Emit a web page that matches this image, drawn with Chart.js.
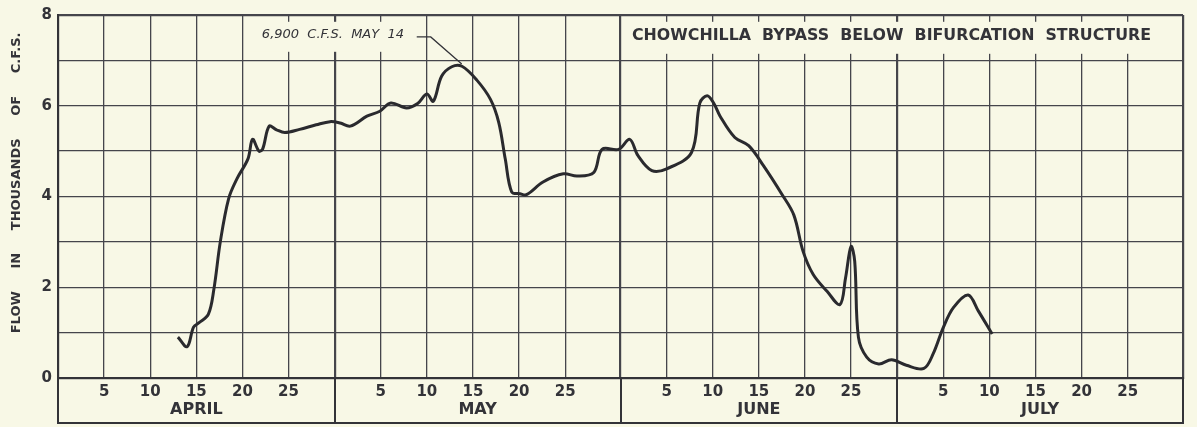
<!DOCTYPE html>
<html>
<head>
<meta charset="utf-8">
<script src="https://cdn.jsdelivr.net/npm/chart.js@4"></script>
<style>
  html, body { margin: 0; padding: 0; background: #f8f8e6; }
  canvas { display: block; }
</style>
</head>
<body>
<canvas id="flowChart" width="1197" height="427"></canvas>
<script>
// 1. data - x is days counted from March 31 (April 1 = 1, May 1 = 31, June 1 = 62, July 1 = 92)
const flowDays = [
  13.0, 14.0, 14.7, 15.3, 16.3, 16.9, 17.6, 18.5, 19.4, 20.6,
  21.1, 21.8, 22.2, 22.9, 23.7, 24.6, 26.2, 28.0, 29.5, 30.6,
  31.7, 33.5, 34.9, 36.1, 37.8, 39.0, 40.0, 40.7, 41.6, 42.7,
  43.8, 45.4, 46.9, 47.8, 48.5, 49.2, 50.1, 50.8, 52.6, 54.8,
  56.3, 58.1, 59.0, 60.8, 62.0, 62.9, 64.4, 66.0, 68.7, 69.6,
  70.4, 71.1, 71.8, 73.4, 74.9, 76.5, 78.5, 79.8, 80.8, 81.9,
  83.4, 84.8, 85.4, 86.0, 86.4, 86.8, 87.7, 89.0, 90.4, 92.0,
  93.9, 94.9, 96.0, 97.1, 98.7, 99.8, 101.3
];
const flowCfs = [ // thousands of c.f.s.
  0.90, 0.69, 1.12, 1.22, 1.40, 1.95, 3.00, 3.95, 4.39, 4.83,
  5.26, 5.00, 5.05, 5.55, 5.47, 5.41, 5.48, 5.58, 5.65, 5.62,
  5.55, 5.77, 5.88, 6.06, 5.95, 6.05, 6.26, 6.10, 6.65, 6.86,
  6.87, 6.57, 6.14, 5.63, 4.83, 4.10, 4.06, 4.04, 4.32, 4.50,
  4.45, 4.53, 5.04, 5.04, 5.26, 4.90, 4.57, 4.61, 4.97, 6.06,
  6.22, 6.06, 5.77, 5.30, 5.12, 4.68, 4.05, 3.59, 2.79, 2.28,
  1.91, 1.62, 2.20, 2.90, 2.57, 0.90, 0.46, 0.31, 0.40, 0.28,
  0.21, 0.53, 1.11, 1.55, 1.83, 1.48, 0.97
];

// 2. axis ticks
const dayTicks   = [0, 5, 10, 15, 20, 25, 30, 35, 40, 45, 50, 55, 61, 66, 71, 76, 81, 86, 91, 96, 101, 106, 111, 116, 122];
const dayLabels  = ['', '5', '10', '15', '20', '25', '', '5', '10', '15', '20', '25', '', '5', '10', '15', '20', '25', '', '5', '10', '15', '20', '25', ''];
const monthEdges = [0, 30, 61, 91, 122];
const monthNames = ['APRIL', 'MAY', 'JUNE', 'JULY'];
const monthMids  = [15, 45.5, 76, 106.5];
const flowTicks  = [0, 1, 2, 3, 4, 5, 6, 7, 8];
const flowLabels = ['0', '', '2', '', '4', '', '6', '', '8'];

const chartTitle = 'CHOWCHILLA  BYPASS  BELOW  BIFURCATION  STRUCTURE';
const peakNote   = '6,900  C.F.S.  MAY  14';
const peakDay    = 44;
const peakFlow   = 6.9;

const INK  = '#333338';
const GRID = '#45454b';
const BG   = '#f8f8e6';

// 3. title, peak note and the month box under the plot
const paperPlugin = {
  id: 'paper',
  beforeDatasetsDraw(chart) {
    const ctx = chart.ctx;
    const x = chart.scales.x, y = chart.scales.y;
    ctx.save();
    // title label sits on a blank patch of paper
    ctx.fillStyle = BG;
    ctx.fillRect(x.getPixelForValue(61) + 4, y.getPixelForValue(7.85), x.right - x.getPixelForValue(61) - 7, 32);
    ctx.fillRect(250, y.getPixelForValue(7.85), 163, 30);
    ctx.fillStyle = INK;
    ctx.textBaseline = 'middle';
    ctx.font = 'bold 16px "DejaVu Sans"';
    ctx.textAlign = 'left';
    ctx.fillText(chartTitle, 632, 36, 519);
    ctx.font = 'italic 13px "DejaVu Sans"';
    ctx.textAlign = 'right';
    ctx.fillText(peakNote, 404, 35, 148);
    // leader to the peak
    const px = x.getPixelForValue(peakDay), py = y.getPixelForValue(peakFlow);
    ctx.strokeStyle = INK;
    ctx.lineWidth = 1.3;
    ctx.beginPath();
    ctx.moveTo(px - 47, py - 28);
    ctx.lineTo(px - 33, py - 28);
    ctx.lineTo(px - 2, py - 1);
    ctx.stroke();
    ctx.restore();
  },
  afterDraw(chart) {
    const ctx = chart.ctx;
    const x = chart.scales.x;
    const top = chart.chartArea.bottom;
    const bottom = chart.scales.xMonth.bottom;
    ctx.save();
    ctx.strokeStyle = INK;
    ctx.lineWidth = 2;
    ctx.strokeRect(x.left, top, x.right - x.left, bottom - top);
    monthEdges.forEach(d => {
      const px = Math.round(x.getPixelForValue(d));
      ctx.beginPath();
      ctx.moveTo(px, top);
      ctx.lineTo(px, bottom);
      ctx.stroke();
    });
    ctx.restore();
  }
};

// 4. chart
const isEdge = v => monthEdges.includes(v);

new Chart(document.getElementById('flowChart'), {
  type: 'line',
  data: {
    datasets: [{
      data: flowDays.map((d, i) => ({ x: d, y: flowCfs[i] })),
      borderColor: '#2a2a2e',
      borderWidth: 3,
      pointRadius: 0,
      tension: 0.35,
      fill: false
    }]
  },
  options: {
    responsive: false,
    animation: false,
    layout: { padding: { top: 11, right: 14, bottom: 4, left: 0 } },
    plugins: { legend: { display: false }, tooltip: { enabled: false } },
    scales: {
      x: {
        type: 'linear',
        min: 0, max: 122,
        weight: 0,
        afterBuildTicks: s => { s.ticks = dayTicks.map(v => ({ value: v })); },
        afterFit: s => { s.height = 22; },
        ticks: {
          autoSkip: false, maxRotation: 0, padding: 5,
          color: INK,
          font: { family: 'DejaVu Sans', size: 15, weight: 'bold' },
          callback: (v, i) => dayLabels[i]
        },
        grid: {
          drawTicks: false,
          color: GRID,
          lineWidth: c => isEdge(c.tick && c.tick.value) ? 2.2 : 1.3
        },
        border: { display: true, color: INK, width: 2 }
      },
      xMonth: {
        type: 'linear',
        position: 'bottom',
        min: 0, max: 122,
        weight: 1,
        afterBuildTicks: s => { s.ticks = monthMids.map(v => ({ value: v })); },
        afterFit: s => { s.height = 23; },
        ticks: {
          autoSkip: false, maxRotation: 0, padding: 0,
          color: INK,
          font: { family: 'DejaVu Sans', size: 16, weight: 'bold' },
          callback: (v, i) => monthNames[i]
        },
        grid: { display: false, drawTicks: false },
        border: { display: false }
      },
      y: {
        min: 0, max: 8,
        afterBuildTicks: s => { s.ticks = flowTicks.map(v => ({ value: v })); },
        afterFit: s => { s.width = 58; },
        ticks: {
          padding: 6,
          color: INK,
          font: { family: 'DejaVu Sans', size: 15, weight: 'bold' },
          callback: (v, i) => flowLabels[i]
        },
        grid: {
          drawTicks: false,
          color: GRID,
          lineWidth: c => (c.tick && (c.tick.value === 0 || c.tick.value === 8)) ? 2.2 : 1.3
        },
        border: { display: true, color: INK, width: 2 },
        title: {
          display: true,
          text: '      FLOW     IN     THOUSANDS     OF     C.F.S.',
          color: INK,
          font: { family: 'DejaVu Sans', size: 13, weight: 'bold' },
          padding: { top: 9, bottom: 0 }
        }
      }
    }
  },
  plugins: [paperPlugin]
});
</script>
</body>
</html>
